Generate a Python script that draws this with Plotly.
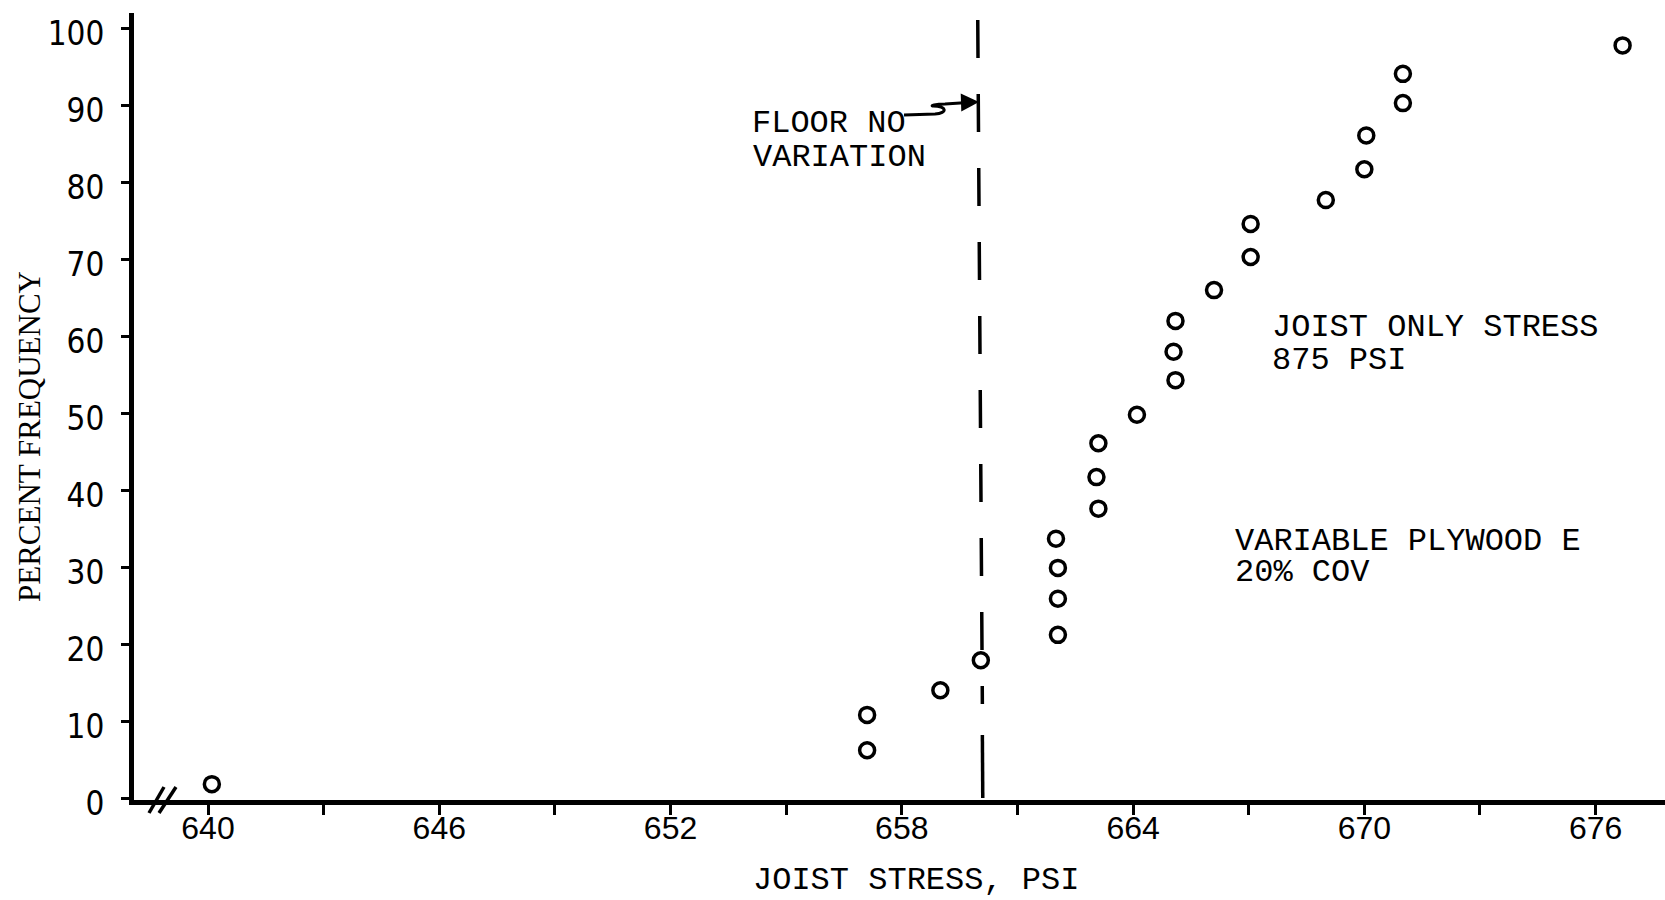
import plotly.graph_objects as go

# ---------------- data ----------------
joist_stress = [640.1, 657.1, 657.1, 659.0, 660.05, 662.05, 662.05, 662.05, 662.0,
                663.1, 663.05, 663.1, 664.1, 665.1, 665.05, 665.1, 666.1, 667.05,
                667.05, 669.0, 670.0, 670.05, 671.0, 671.0, 676.7]
percent_frequency = [1.8, 6.2, 10.8, 14.0, 17.9, 21.2, 25.9, 29.9, 33.7, 37.6, 41.7,
                     46.1, 49.8, 54.3, 58.0, 62.0, 66.0, 70.3, 74.6, 77.7, 81.7, 86.1,
                     90.3, 94.1, 97.8]

x_tick_vals = [640, 643, 646, 649, 652, 655, 658, 661, 664, 667, 670, 673, 676]
x_tick_text = ["640", "", "646", "", "652", "", "658", "", "664", "", "670", "", "676"]
y_tick_vals = [0, 10, 20, 30, 40, 50, 60, 70, 80, 90, 100]

floor_no_variation = 660.1          # PSI, dashed reference line

# ---------------- layout constants ----------------
W, H = 1665, 900
ML, MR, MT, MB = 134, 0, 13, 100
XR = [638.08, 677.80]
YR = [-0.26, 102.01]
PW, PH = W - ML - MR, H - MT - MB


def pxx(p):
    """pixel x -> paper x"""
    return (p - ML) / PW


def pxy(p):
    """pixel y -> paper y"""
    return (MT + PH - p) / PH


def dy(p):
    """pixel y -> data y"""
    return YR[0] + (MT + PH - p) / PH * (YR[1] - YR[0])


BLACK = "#000000"
MONO = "Liberation Mono, Courier New, monospace"
XTICKF = "Liberation Sans, Arial, sans-serif"
YTICKF = "Liberation Sans Narrow, DejaVu Sans Condensed, Liberation Sans, sans-serif"

fig = go.Figure()
fig.add_trace(go.Scatter(
    x=joist_stress, y=percent_frequency, mode="markers",
    marker=dict(symbol="circle-open", size=15, color=BLACK, line=dict(width=3.5, color=BLACK)),
    showlegend=False, cliponaxis=False,
))

shapes = []
# dashed "floor no variation" line (slightly hand-drawn tilt)
shapes.append(dict(type="line", xref="x", yref="y",
                   x0=floor_no_variation - 0.13, y0=dy(20),
                   x1=floor_no_variation - 0.01, y1=dy(704),
                   line=dict(color=BLACK, width=3.5, dash="38px,36px")))
shapes.append(dict(type="line", xref="x", yref="y",
                   x0=floor_no_variation - 0.01, y0=dy(735),
                   x1=floor_no_variation, y1=0,
                   line=dict(color=BLACK, width=3.5)))
# axis break marks "//"
for (xa, ya, xb, yb) in [(149, 813, 164, 787), (159, 813, 176, 787)]:
    shapes.append(dict(type="line", xref="paper", yref="paper",
                       x0=pxx(xa), y0=pxy(ya), x1=pxx(xb), y1=pxy(yb),
                       line=dict(color=BLACK, width=3.5)))
# squiggle leader from the "FLOOR NO" label
pts = [(904, 115), (935, 114), (948, 113), (947, 106), (933, 106), (930, 106), (935, 104), (945, 104), (968, 102.5)]
path = "M{},{} L{},{} C{},{} {},{} {},{} C{},{} {},{} {},{} L{},{}".format(
    *[v for (a, b) in pts for v in (pxx(a), pxy(b))])
shapes.append(dict(type="path", xref="paper", yref="paper", path=path,
                   line=dict(color=BLACK, width=3)))

annotations = [
    dict(xref="paper", yref="paper", axref="pixel", ayref="pixel",
         x=pxx(979), y=pxy(102), ax=-19, ay=0.6, text="",
         showarrow=True, arrowhead=2, arrowsize=1.2, arrowwidth=3, arrowcolor=BLACK),
]

labels = [
    ("FLOOR NO", 750, 123),
    ("VARIATION", 751, 157.5),
    ("JOIST ONLY STRESS", 1270, 327.5),
    ("875 PSI", 1270, 360.5),
    ("VARIABLE PLYWOOD E", 1233, 541),
    ("20% COV", 1233, 572.5),
]
for txt, px, py in labels:
    annotations.append(dict(xref="paper", yref="paper", x=pxx(px), y=pxy(py),
                            xanchor="left", yanchor="middle", text=txt, showarrow=False,
                            font=dict(family=MONO, size=32, color=BLACK)))

# axis titles
annotations.append(dict(xref="paper", yref="paper", x=pxx(916), y=pxy(880),
                        xanchor="center", yanchor="middle", text="JOIST STRESS, PSI",
                        showarrow=False, font=dict(family=MONO, size=32, color=BLACK)))
annotations.append(dict(xref="paper", yref="paper", x=pxx(30), y=pxy(437),
                        xanchor="center", yanchor="middle", text="PERCENT FREQUENCY",
                        textangle=-90, showarrow=False,
                        font=dict(family="Liberation Serif, serif", size=31, color=BLACK)))

fig.update_layout(
    width=W, height=H,
    margin=dict(l=ML, r=MR, t=MT, b=MB, pad=0),
    paper_bgcolor="white", plot_bgcolor="white",
    shapes=shapes, annotations=annotations,
    xaxis=dict(range=XR, showgrid=False, zeroline=False, showline=True,
               linecolor=BLACK, linewidth=5, ticks="outside", ticklen=10,
               tickwidth=3, tickcolor=BLACK, tickvals=x_tick_vals, ticktext=x_tick_text,
               tickfont=dict(family=XTICKF, size=32, color=BLACK),
               ticklabelstandoff=-14),
    yaxis=dict(range=YR, showgrid=False, zeroline=False, showline=True,
               linecolor=BLACK, linewidth=5, ticks="outside", ticklen=8,
               tickwidth=3, tickcolor=BLACK, tickvals=y_tick_vals,
               tickfont=dict(family=YTICKF, size=33, color=BLACK),
               ticklabelstandoff=10, ticklabelshift=5),
)

fig.write_html("out.html")
